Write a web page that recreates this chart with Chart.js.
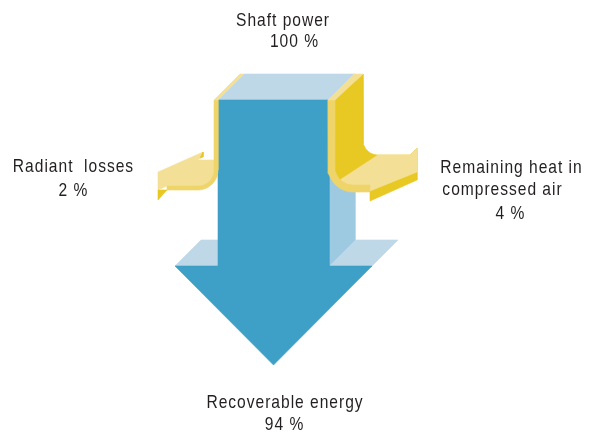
<!DOCTYPE html>
<html>
<head>
<meta charset="utf-8">
<script src="https://cdn.jsdelivr.net/npm/chart.js@4.4.1/dist/chart.umd.min.js"></script>
<style>
html,body{margin:0;padding:0;background:#ffffff;}
canvas{display:block;}
</style>
</head>
<body>
<canvas id="c" width="593" height="435"></canvas>
<script>
// ---------------- data ----------------
const flowNames  = ['Shaft power', 'Radiant losses', 'Remaining heat in compressed air', 'Recoverable energy'];
const flowValues = [100, 2, 4, 94];
const flowUnit   = ' %';
const labelLines = [['Shaft power'], ['Radiant  losses'], ['Remaining heat in', 'compressed air'], ['Recoverable energy']];

// ---------------- layout (diagram geometry in canvas units) ----------------
const arrowBox = {left: 218, right: 329, top: 100, neck: 266, headLeft: 175, headRight: 372, tipY: 365, dX: 26, dY: 26};
const labelPos = [
  [[283, 26], [294.5, 47]],
  [[73.5, 172], [73.5, 196]],
  [[511.5, 173], [502.5, 195], [510.5, 219]],
  [[285, 408], [284.5, 430]]
];
const palette = {
  blueFront: '#3e9fc7', blueTop: '#bfd8e8', blueSide: '#9ecae1',
  yLight: '#f3e096', yMid: '#efd46a', yDark: '#e8c822', text: '#231f20'
};
const textCondense = 0.82;

function arcPts(cx, cy, r, a0, a1, n) {
  n = n || 12;
  const p = [];
  for (let i = 0; i <= n; i++) {
    const a = a0 + (a1 - a0) * i / n;
    p.push([cx + r * Math.cos(a), cy + r * Math.sin(a)]);
  }
  return p;
}
const PI = Math.PI;
const A = arrowBox;
const tipX = (A.headLeft + A.headRight) / 2;

// shapes: bottom-most first
const shapes = [
  // blue arrow (shaft power -> recoverable energy)
  {c: palette.blueTop,  p: [[A.headLeft, A.neck], [A.headLeft + A.dX, A.neck - A.dY], [A.left, A.neck - A.dY], [A.left, A.neck]]},
  {c: palette.blueTop,  p: [[A.right, A.neck], [A.right + A.dX, A.neck - A.dY], [A.headRight + A.dX, A.neck - A.dY], [A.headRight, A.neck]]},
  {c: palette.blueSide, p: [[A.right, A.top], [A.right + A.dX, A.top - A.dY], [A.right + A.dX, A.neck - A.dY], [A.right, A.neck]]},
  {c: palette.blueTop,  p: [[A.left, A.top], [A.left + A.dX, A.top - A.dY], [A.right + A.dX, A.top - A.dY], [A.right, A.top]]},
  {c: palette.blueFront, p: [[A.left, A.top], [A.right, A.top], [A.right, A.neck], [A.headRight, A.neck], [tipX, A.tipY], [A.headLeft, A.neck], [A.left, A.neck]]},
  // right yellow band (remaining heat)
  {c: palette.yDark, p: [[335, 100], [363, 74], [363, 140], ...arcPts(378, 140, 15, PI, PI / 2), [410, 155], [417, 148], [417, 180], [370, 201], [370, 185], [353, 185], ...arcPts(353, 167, 18, PI / 2, PI), [335, 100]]},
  {c: palette.yLight, p: [[378, 155], [410, 155], [417, 148], [417, 172], [370, 191], [370, 185], [353, 185], ...arcPts(353, 167, 18, PI / 2, PI * 0.75, 6)]},
  {c: palette.yMid, p: [[328, 100], [328, 167], ...arcPts(353, 167, 25, PI, PI / 2), [370, 192], [370, 185], [353, 185], ...arcPts(353, 167, 18, PI / 2, PI), [335, 100]]},
  {c: palette.yLight, p: [[328, 100], [354, 74], [363, 74], [335, 100]]},
  // left yellow band (radiant losses)
  {c: palette.yLight, p: [[158, 172], [203, 152], [203, 156], [198, 160], [214, 160], [214, 170], ...arcPts(198, 170, 16, 0, PI / 2), [167, 186], [158, 190]]},
  {c: palette.yMid, p: [[218, 100], [218, 170], ...arcPts(198, 170, 20, 0, PI / 2), [167, 190], [167, 186], ...arcPts(198, 170, 16, PI / 2, 0), [214, 100]]},
  {c: palette.yLight, p: [[214, 100], [240, 74], [244, 74], [218, 100]]},
  {c: palette.yDark, p: [[158, 190], [167, 190], [158, 200]]},
  {c: palette.yDark, p: [[203, 152], [203, 157], [200, 158]]}
];

const N = shapes.length;
const datasets = shapes.map((s, i) => {
  const pts = s.p.concat([s.p[0]]);
  return {
    label: 'shape' + i,
    data: pts.map(([x, y]) => ({x, y})),
    fill: 'shape',
    backgroundColor: s.c,
    borderColor: s.c,
    borderWidth: 0.6,
    pointRadius: 0,
    pointHoverRadius: 0,
    tension: 0,
    order: N - i
  };
});

const labelPlugin = {
  id: 'flowLabels',
  afterDatasetsDraw(chart) {
    const {ctx, scales: {x, y}} = chart;
    ctx.save();
    ctx.fillStyle = palette.text;
    ctx.font = '19px "Liberation Sans", Arial, sans-serif';
    try { ctx.letterSpacing = '1.2px'; } catch (e) {}
    ctx.textAlign = 'center';
    ctx.textBaseline = 'alphabetic';
    flowNames.forEach((name, i) => {
      const lines = labelLines[i].concat([flowValues[i] + flowUnit]);
      lines.forEach((t, j) => {
        const [px, py] = labelPos[i][j];
        ctx.save();
        ctx.translate(x.getPixelForValue(px), y.getPixelForValue(py));
        ctx.scale(textCondense, 1);
        ctx.fillText(t, 0, 0);
        ctx.restore();
      });
    });
    ctx.restore();
  }
};

new Chart(document.getElementById('c'), {
  type: 'line',
  data: {datasets},
  options: {
    responsive: false,
    animation: false,
    events: [],
    layout: {padding: 0},
    plugins: {legend: {display: false}, tooltip: {enabled: false}, title: {display: false}},
    scales: {
      x: {type: 'linear', min: 0, max: 593, display: false},
      y: {type: 'linear', min: 0, max: 435, reverse: true, display: false}
    }
  },
  plugins: [labelPlugin]
});
</script>
</body>
</html>
